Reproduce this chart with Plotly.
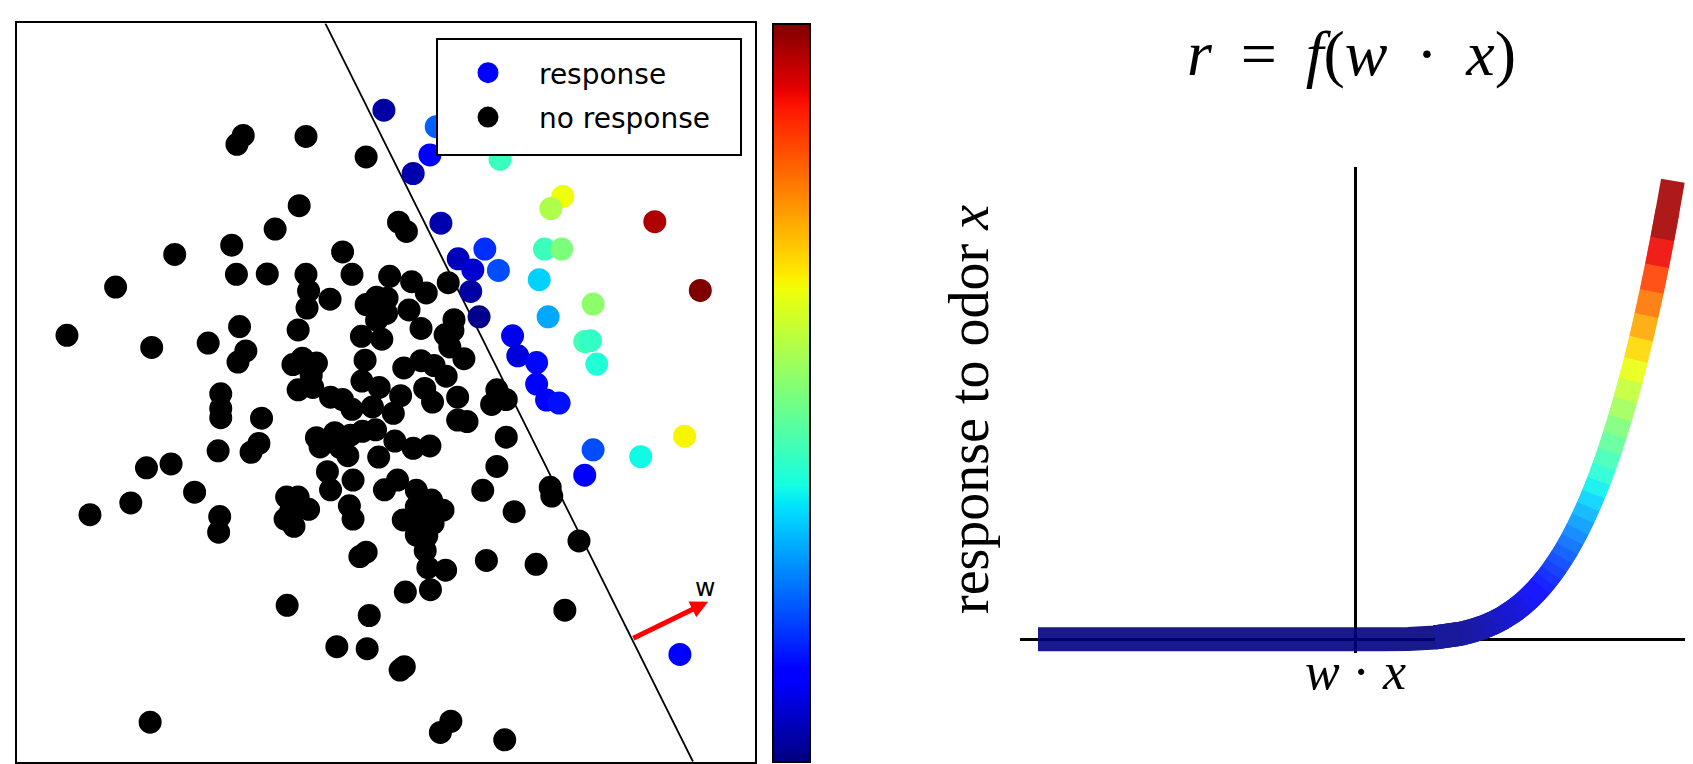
import numpy as np
import plotly.graph_objects as go

# ---------------- data: left panel (odor plane, arbitrary units) ----------------
nr_x = [465, 453, 585, 700, 572, 762, 777, 526, 443, 334, 655, 452, 511, 585, 673, 221, 745, 787, 857, 590,
        631, 815, 700, 720, 740, 587, 782, 458, 868, 570, 720, 739, 805, 128, 290, 398, 691, 730, 851, 866,
        470, 455, 860, 887, 698, 578, 560, 605, 595, 772, 805, 830, 853, 692, 725, 570, 598, 812, 422, 766,
        875, 950, 632, 655, 827, 940, 968, 422, 422, 673, 712, 752, 875, 893, 500, 605, 640, 670, 693, 718,
        755, 790, 822, 968, 417, 480, 495, 612, 650, 665, 724, 280, 327, 626, 950, 675, 760, 372, 250, 632,
        735, 796, 923, 1052, 1055, 548, 570, 668, 172, 420, 555, 590, 545, 562, 675, 771, 825, 847, 796, 809,
        828, 796, 983, 418, 796, 816, 1107, 688, 700, 813, 930, 1025, 852, 818, 823, 775, 549, 706, 1080, 644,
        702, 773, 765, 287, 862, 842, 965]
nr_y = [278, 296, 280, 322, 422, 456, 475, 470, 503, 522, 517, 563, 562, 563, 563, 589, 567, 578, 580, 597,
        614, 601, 625, 610, 612, 632, 636, 670, 656, 677, 657, 643, 674, 688, 713, 704, 690, 696, 687, 678,
        720, 743, 712, 736, 739, 735, 748, 745, 770, 755, 740, 750, 772, 782, 795, 800, 795, 797, 808, 812,
        815, 800, 815, 820, 825, 830, 820, 838, 857, 840, 835, 848, 862, 865, 858, 898, 888, 893, 885, 882,
        905, 920, 915, 897, 925, 928, 910, 917, 918, 935, 938, 960, 952, 968, 957, 985, 985, 1010, 1032, 1005,
        1005, 1006, 1006, 1000, 1018, 1020, 1020, 1038, 1056, 1060, 1050, 1045, 1065, 1080, 1065, 1067, 1026, 1047, 1040, 1060,
        1074, 1081, 1050, 1092, 1098, 1100, 1110, 1142, 1133, 1130, 1150, 1158, 1170, 1165, 1210, 1215, 1242, 1263, 1252, 1327,
        1331, 1368, 1375, 1482, 1480, 1503, 1518]

r_x = [1300, 734, 834, 822, 790, 956, 1076, 1053, 1252, 843, 927, 1041, 1074, 876, 904, 953, 1031, 900,
       1134, 1339, 916, 1048, 980, 1118, 1129, 990, 1141, 1026, 1026, 1045, 1069, 1309, 1134, 1225, 1118]
r_y = [1343, 226, 260, 318, 356, 327, 403, 428, 455, 458, 511, 511, 511, 531, 554, 555, 574, 598,
       624, 596, 650, 650, 689, 701, 699, 730, 747, 744, 788, 821, 827, 895, 923, 937, 975]
r_val = [0.12, 0.03, 0.22, 0.12, 0.04, 0.42, 0.64, 0.56, 0.96, 0.04, 0.17, 0.42, 0.50, 0.05, 0.07, 0.20, 0.33, 0.03,
         0.52, 1.00, 0.01, 0.29, 0.10, 0.43, 0.41, 0.08, 0.39, 0.13, 0.11, 0.11, 0.14, 0.65, 0.20, 0.37, 0.11]

boundary_x = [622, 1325]
boundary_y = [48, 1563]
w_tail_x, w_tail_y = 1208, 1311
w_tip_x, w_tip_y = 1354, 1235

# ---------------- data: right panel (response nonlinearity) ----------------
curve_x = [-3.0, -2.0, -1.0, 0.0, 0.25, 0.5, 0.75, 1.0, 1.1, 1.2, 1.3, 1.4, 1.5, 1.55, 1.6, 1.65, 1.7, 1.75,
           1.8, 1.85, 1.9, 1.95, 2.0, 2.05, 2.1, 2.15, 2.2, 2.25, 2.3, 2.35, 2.4, 2.45, 2.5, 2.55, 2.6, 2.65,
           2.7, 2.75, 2.8, 2.85, 2.9, 2.95, 3.0]
curve_y = [0.0, 0.0, 0.0, 0.0, 0.00005, 0.0008, 0.0039, 0.0123, 0.0181, 0.0256, 0.0353, 0.0474, 0.0625, 0.0713,
           0.0809, 0.0915, 0.1031, 0.1158, 0.1296, 0.1446, 0.1609, 0.1785, 0.1975, 0.2180, 0.2401, 0.2638,
           0.2892, 0.3164, 0.3455, 0.3765, 0.4096, 0.4448, 0.4823, 0.5220, 0.5642, 0.6088, 0.6561, 0.7061,
           0.7588, 0.8145, 0.8732, 0.9350, 1.0]

# ---------------- matplotlib "jet" colormap ----------------
def jet(v):
    r = np.interp(v, [0, 0.35, 0.66, 0.89, 1], [0, 0, 1, 1, 0.5])
    g = np.interp(v, [0, 0.125, 0.375, 0.64, 0.91, 1], [0, 0, 1, 1, 0, 0])
    b = np.interp(v, [0, 0.11, 0.34, 0.65, 1], [0.5, 1, 1, 0, 0])
    return float(r), float(g), float(b)

stops = [0, 0.11, 0.125, 0.34, 0.35, 0.375, 0.64, 0.65, 0.66, 0.89, 0.91, 1]
jet_scale = [[s, 'rgb(%d,%d,%d)' % tuple(round(255 * c) for c in jet(s))] for s in stops]

# page is rendered with an 8px body margin: figure size & helpers in page pixels
OFF = 8
FW, FH = 1693 - OFF, 764 - OFF
def px(x):
    return (x - OFF) / FW
def py(y):
    return 1 - (y - OFF) / FH

fig = go.Figure()

# decision boundary
fig.add_trace(go.Scatter(x=boundary_x, y=boundary_y, mode='lines',
                         line=dict(color='black', width=1.8), showlegend=False, hoverinfo='skip'))

MS, MLW = 18, 5
fig.add_trace(go.Scatter(x=nr_x, y=nr_y, mode='markers', name='no response', legendrank=2,
                         legendgroup='b',
                         marker=dict(color='black', size=MS, line=dict(color='black', width=MLW))))
fig.add_trace(go.Scatter(x=r_x, y=r_y, mode='markers', name='response', legendrank=1, legendgroup='a',
                         marker=dict(color=r_val, colorscale=jet_scale, cmin=0, cmax=1, size=MS,
                                     line=dict(color=r_val, colorscale=jet_scale, cmin=0, cmax=1, width=MLW),
                                     showscale=True,
                                     colorbar=dict(x=px(773), xanchor='left', xpad=0, ypad=0,
                                                   y=py(393), yanchor='middle',
                                                   thickness=37, thicknessmode='pixels',
                                                   len=738, lenmode='pixels',
                                                   outlinewidth=2, outlinecolor='black',
                                                   ticks='', showticklabels=False))))

# right panel curve: colored segments (color follows the response value)
def rgba(v, a):
    r, g, b = jet(v)
    return 'rgba(%d,%d,%d,%.2f)' % (round(255 * r), round(255 * g), round(255 * b), a)

def blended(v, a=0.9):
    r, g, b = jet(v)
    return 'rgb(%d,%d,%d)' % tuple(round(255 * (a * c + (1 - a))) for c in (r, g, b))

k_flat = curve_x.index(0.75)
# flat (near-zero) part: one translucent stroke so the axis shows through
fig.add_trace(go.Scatter(x=curve_x[:k_flat + 2], y=curve_y[:k_flat + 2], mode='lines', xaxis='x2', yaxis='y2',
                         line=dict(color=rgba(0.0, 0.9), width=24, simplify=False),
                         showlegend=False, hoverinfo='skip'))
# rising part: overlapping short strokes, each colored by its response value
for i in range(k_flat, len(curve_x) - 1):
    v = 0.5 * (curve_y[i] + curve_y[i + 1])
    j0 = max(i - 1, k_flat)
    fig.add_trace(go.Scatter(x=curve_x[j0:i + 2], y=curve_y[j0:i + 2], mode='lines', xaxis='x2', yaxis='y2',
                             line=dict(color=blended(v), width=24, simplify=False),
                             showlegend=False, hoverinfo='skip'))

# arrow w
fig.add_annotation(x=w_tip_x, y=w_tip_y, ax=w_tail_x, ay=w_tail_y, xref='x', yref='y', axref='x', ayref='y',
                   text='', showarrow=True, arrowcolor='red', arrowwidth=5, arrowhead=2, arrowsize=0.7,
                   standoff=0, startstandoff=0)
fig.add_annotation(x=w_tip_x - 6, y=w_tip_y - 29, xref='x', yref='y', text='w', showarrow=False,
                   xanchor='center', yanchor='middle',
                   font=dict(family='DejaVu Sans', size=25, color='black'))

SERIF = 'Liberation Serif'
fig.add_annotation(x=px(1351), y=py(53), xref='paper', yref='paper', showarrow=False,
                   xanchor='center', yanchor='middle',
                   text='<i>r</i>\u2009 = \u2009<i>f</i>(<i>w</i>\u2009 · \u2009<i>x</i>)',
                   font=dict(family=SERIF, size=64, color='black'))
fig.add_annotation(x=px(969), y=py(409), xref='paper', yref='paper', showarrow=False, textangle=-90,
                   xanchor='center', yanchor='middle',
                   text='response to odor <i>x</i>', font=dict(family=SERIF, size=56, color='black'))

# legend frame
fig.add_shape(type='rect', xref='paper', yref='paper', x0=px(437), x1=px(741), y0=py(155), y1=py(39),
              fillcolor='white', line=dict(color='black', width=2), layer='above')

axis_common = dict(showgrid=False, zeroline=False, showticklabels=False, ticks='')
fig.update_layout(
    width=FW, height=FH, margin=dict(l=0, r=0, t=0, b=0),
    paper_bgcolor='white', plot_bgcolor='white',
    xaxis=dict(domain=[px(17.3), px(754.7)], range=[33, 1443], showline=True, mirror=True,
               linecolor='black', linewidth=2, **axis_common),
    yaxis=dict(domain=[py(761.7), py(23.4)], range=[1563, 48], showline=True, mirror=True,
               linecolor='black', linewidth=2, **axis_common),
    xaxis2=dict(domain=[px(1020), 1.0], range=[-3.17, 3.19], anchor='y2', showgrid=False,
                zeroline=True, zerolinecolor='black', zerolinewidth=2.5, showline=False,
                tickmode='array', tickvals=[0], ticktext=['<i>w</i> · <i>x</i>'], ticks='',
                ticklabelstandoff=-17,
                tickfont=dict(family=SERIF, size=52, color='black')),
    yaxis2=dict(domain=[py(653), py(167)], range=[-0.03, 1.03], anchor='x2', showgrid=False,
                zeroline=True, zerolinecolor='black', zerolinewidth=2.5, showline=False,
                showticklabels=False, ticks=''),
    legend=dict(x=429 / FW, y=1 - 40 / FH, xanchor='left', yanchor='top', bgcolor='rgba(0,0,0,0)',
                borderwidth=0, itemwidth=92, traceorder='grouped', tracegroupgap=5,
                font=dict(family='DejaVu Sans', size=28, color='black')),
    showlegend=True,
)

fig.write_html('out.html')
